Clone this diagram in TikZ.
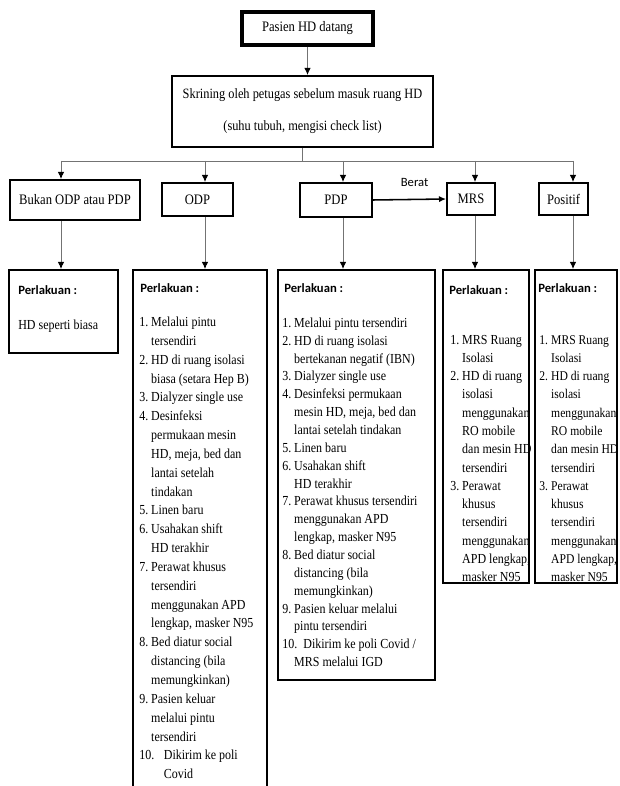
\documentclass[tikz,border=0pt]{standalone}
\usepackage{fontspec}
\setmainfont{Liberation Serif}[FakeStretch=0.87]
\newfontfamily\sansfont{Carlito}
\usetikzlibrary{arrows.meta,fit}

% nomor daftar dan indentasi lanjutan
\newcommand{\nomor}[1]{\makebox[8.5pt][l]{#1}}
\newcommand{\lanjut}{\hspace*{8.5pt}}

\begin{document}
\begin{tikzpicture}[x=0.025cm, y=-0.025cm,
    kotak/.style={draw, line width=1.4pt, inner sep=0pt, font=\fontsize{10.3}{12}\selectfont},
    ukuran/.style 2 args={minimum width=#1*0.025cm, minimum height=#2*0.025cm},
    garis/.style={draw=black!55, line width=0.6pt},
    panah/.style={garis, -{Latex[length=5pt,width=4.5pt,color=black]}},
    judul/.style={anchor=west, inner sep=0pt, font=\sansfont\bfseries\fontsize{9}{11}\selectfont},
    isi/.style={anchor=north west, inner sep=0pt, align=left, font=\fontsize{9.8}{#1}\selectfont}]
    \useasboundingbox (0,0) rectangle (619,786);
    \fill[white] (0,0) rectangle (619,786);
    \clip (0,0) rectangle (619,786);

    % kotak atas
    \node[kotak, line width=2.4pt, ukuran={131}{33}] (pasien) at (307.5,28.5) {Pasien HD datang};
    \node[kotak, ukuran={261}{71}, align=center, font=\fontsize{10.1}{22.8}\selectfont] (skrining) at (302.5,111.5)
        {Skrining oleh petugas sebelum masuk ruang HD\\(suhu tubuh, mengisi check list)};

    % kategori pasien
    \node[kotak, ukuran={130}{40}] (bukan) at (75,200) {Bukan ODP atau PDP};
    \node[kotak, ukuran={71}{33}] (odp) at (197.5,199.5) {ODP};
    \node[kotak, ukuran={72}{34}] (pdp) at (336,200) {PDP};
    \node[kotak, ukuran={48}{32}] (mrs) at (471,199) {MRS};
    \node[kotak, ukuran={49}{32}] (positif) at (563.5,199) {Positif};

    % isi perlakuan
    \node[judul] (jbukan) at (18,290) {Perlakuan :};
    \node[isi=12pt, anchor=west] (tbukan) at (18,326) {HD seperti biasa};

    \node[judul] (jodp) at (140,288) {Perlakuan :};
    \node[isi=13.4pt] (todp) at (139,313) {\strut\nomor{1.}Melalui pintu\\
        \lanjut tersendiri\\
        \nomor{2.}HD di ruang isolasi\\
        \lanjut biasa (setara Hep B)\\
        \nomor{3.}Dialyzer single use\\
        \nomor{4.}Desinfeksi\\
        \lanjut permukaan mesin\\
        \lanjut HD, meja, bed dan\\
        \lanjut lantai setelah\\
        \lanjut tindakan\\
        \nomor{5.}Linen baru\\
        \nomor{6.}Usahakan shift\\
        \lanjut HD terakhir\\
        \nomor{7.}Perawat khusus\\
        \lanjut tersendiri\\
        \lanjut menggunakan APD\\
        \lanjut lengkap, masker N95\\
        \nomor{8.}Bed diatur social\\
        \lanjut distancing (bila\\
        \lanjut memungkinkan)\\
        \nomor{9.}Pasien keluar\\
        \lanjut melalui pintu\\
        \lanjut tersendiri\\
        \makebox[17.5pt][l]{10.}Dikirim ke poli\\
        \hspace*{17.5pt}Covid};

    \node[judul] (jpdp) at (284,288) {Perlakuan :};
    \node[isi=12.7pt] (tpdp) at (282,314.5) {\strut\nomor{1.}Melalui pintu tersendiri\\
        \nomor{2.}HD di ruang isolasi\\
        \lanjut bertekanan negatif (IBN)\\
        \nomor{3.}Dialyzer single use\\
        \nomor{4.}Desinfeksi permukaan\\
        \lanjut mesin HD, meja, bed dan\\
        \lanjut lantai setelah tindakan\\
        \nomor{5.}Linen baru\\
        \nomor{6.}Usahakan shift\\
        \lanjut HD terakhir\\
        \nomor{7.}Perawat khusus tersendiri\\
        \lanjut menggunakan APD\\
        \lanjut lengkap, masker N95\\
        \nomor{8.}Bed diatur social\\
        \lanjut distancing (bila\\
        \lanjut memungkinkan)\\
        \nomor{9.}Pasien keluar melalui\\
        \lanjut pintu tersendiri\\
        \makebox[15pt][l]{10.}Dikirim ke poli Covid /\\
        \lanjut MRS melalui IGD};

    \node[judul] (jmrs) at (449,290) {Perlakuan :};
    \node[isi=13pt] (tmrs) at (450,331) {\strut\nomor{1.}MRS Ruang\\
        \lanjut Isolasi\\
        \nomor{2.}HD di ruang\\
        \lanjut isolasi\\
        \lanjut menggunakan\\
        \lanjut RO mobile\\
        \lanjut dan mesin HD\\
        \lanjut tersendiri\\
        \nomor{3.}Perawat\\
        \lanjut khusus\\
        \lanjut tersendiri\\
        \lanjut menggunakan\\
        \lanjut APD lengkap,\\
        \lanjut masker N95};

    \node[judul] (jpositif) at (538,288) {Perlakuan :};
    \node[isi=13pt, font=\fontsize{9.5}{13}\selectfont] (tpositif) at (539,331) {\strut\nomor{1.}MRS Ruang\\
        \lanjut Isolasi\\
        \nomor{2.}HD di ruang\\
        \lanjut isolasi\\
        \lanjut menggunakan\\
        \lanjut RO mobile\\
        \lanjut dan mesin HD\\
        \lanjut tersendiri\\
        \nomor{3.}Perawat\\
        \lanjut khusus\\
        \lanjut tersendiri\\
        \lanjut menggunakan\\
        \lanjut APD lengkap,\\
        \lanjut masker N95};

    % kotak perlakuan
    \node[kotak, fit={(9,270) (118,353)}] (bukanL) {};
    \node[kotak, fit={(133,270) (267,800)}] (odpL) {};
    \node[kotak, fit={(278,270) (435,680)}] (pdpL) {};
    \node[kotak, fit={(443,270) (529,583)}] (mrsL) {};
    \node[kotak, fit={(535,270) (617,583)}] (positifL) {};

    % garis penghubung
    \coordinate (b1) at (61,161);
    \coordinate (b2) at (205,161);
    \coordinate (b3) at (343,161);
    \coordinate (b4) at (475,161);
    \coordinate (b5) at (573,161);
    \draw[panah] (pasien.south) -- (pasien.south |- skrining.north);
    \draw[garis] (skrining.south) -- (skrining.south |- b1);
    \draw[garis] (b1) -- (b5);
    \foreach \k/\a/\b in {b1/bukan/bukanL, b2/odp/odpL, b3/pdp/pdpL, b4/mrs/mrsL, b5/positif/positifL} {
        \draw[panah] (\k) -- (\k |- \a.north);
        \draw[panah] (\k |- \a.south) -- (\k |- \b.north);
    }
    \draw[panah, draw=black, line width=1.1pt] (pdp.east) --
        node[pos=0.57, above=5pt, font=\sansfont\fontsize{9}{11}\selectfont] (berat) {Berat} (mrs.west);
\end{tikzpicture}
\end{document}
